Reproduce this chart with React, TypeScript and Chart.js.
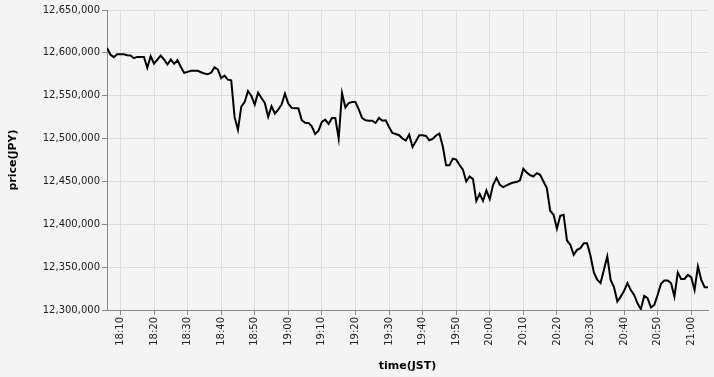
import React, { useEffect, useRef } from "react";
import { Chart, registerables } from "chart.js";

Chart.register(...registerables);

const times: string[] = [
  "18:06", "18:07", "18:08", "18:09",
  "18:10", "18:11", "18:12", "18:13", "18:14", "18:15", "18:16", "18:17", "18:18", "18:19",
  "18:20", "18:21", "18:22", "18:23", "18:24", "18:25", "18:26", "18:27", "18:28", "18:29",
  "18:30", "18:31", "18:32", "18:33", "18:34", "18:35", "18:36", "18:37", "18:38", "18:39",
  "18:40", "18:41", "18:42", "18:43", "18:44", "18:45", "18:46", "18:47", "18:48", "18:49",
  "18:50", "18:51", "18:52", "18:53", "18:54", "18:55", "18:56", "18:57", "18:58", "18:59",
  "19:00", "19:01", "19:02", "19:03", "19:04", "19:05", "19:06", "19:07", "19:08", "19:09",
  "19:10", "19:11", "19:12", "19:13", "19:14", "19:15", "19:16", "19:17", "19:18", "19:19",
  "19:20", "19:21", "19:22", "19:23", "19:24", "19:25", "19:26", "19:27", "19:28", "19:29",
  "19:30", "19:31", "19:32", "19:33", "19:34", "19:35", "19:36", "19:37", "19:38", "19:39",
  "19:40", "19:41", "19:42", "19:43", "19:44", "19:45", "19:46", "19:47", "19:48", "19:49",
  "19:50", "19:51", "19:52", "19:53", "19:54", "19:55", "19:56", "19:57", "19:58", "19:59",
  "20:00", "20:01", "20:02", "20:03", "20:04", "20:05", "20:06", "20:07", "20:08", "20:09",
  "20:10", "20:11", "20:12", "20:13", "20:14", "20:15", "20:16", "20:17", "20:18", "20:19",
  "20:20", "20:21", "20:22", "20:23", "20:24", "20:25", "20:26", "20:27", "20:28", "20:29",
  "20:30", "20:31", "20:32", "20:33", "20:34", "20:35", "20:36", "20:37", "20:38", "20:39",
  "20:40", "20:41", "20:42", "20:43", "20:44", "20:45", "20:46", "20:47", "20:48", "20:49",
  "20:50", "20:51", "20:52", "20:53", "20:54", "20:55", "20:56", "20:57", "20:58", "20:59",
  "21:00", "21:01", "21:02", "21:03", "21:04", "21:05",
];

const prices: number[] = [
  12605800, 12598000, 12595000, 12598400,
  12598400, 12598400, 12597300, 12596900, 12593800, 12595300, 12595300, 12595300, 12582500, 12596100,
  12587500, 12592000, 12596900, 12592200, 12586400, 12592200, 12587200, 12591400, 12583600, 12576600,
  12577800, 12579000, 12579000, 12579000, 12577400, 12576000, 12575000, 12576800, 12583000, 12580600,
  12570600, 12573500, 12568700, 12567900, 12525000, 12510200, 12537300, 12542500, 12555500, 12549700,
  12539600, 12553600, 12547300, 12541500, 12525400, 12537700, 12529200, 12533800, 12539600, 12552300,
  12540800, 12535800, 12535400, 12535400, 12521500, 12518500, 12518300, 12514300, 12505400, 12509300,
  12519400, 12522100, 12517100, 12524000, 12524000, 12500000, 12553100, 12536400, 12541500, 12542600,
  12542600, 12533700, 12524000, 12521300, 12520900, 12520900, 12518200, 12524000, 12520900, 12521300,
  12513600, 12506600, 12505400, 12503900, 12500000, 12497700, 12504600, 12490200, 12496900, 12503900,
  12503900, 12503100, 12498000, 12499600, 12503500, 12505900, 12491000, 12468800, 12468800, 12476600,
  12475400, 12469100, 12463700, 12450000, 12455900, 12452700, 12427300, 12435500, 12427300, 12439500,
  12429300, 12446100, 12453900, 12446100, 12443400, 12445300, 12447300, 12448800, 12449200, 12451200,
  12464800, 12460500, 12457400, 12455800, 12459700, 12457800, 12450000, 12442200, 12415800, 12411100,
  12394800, 12409900, 12411100, 12381100, 12376100, 12364400, 12370200, 12372200, 12378000, 12378000,
  12363300, 12343800, 12335300, 12331400, 12346900, 12362500, 12335000, 12326600, 12309800, 12315600,
  12322300, 12331300, 12323400, 12317600, 12307800, 12301000, 12316400, 12313700, 12303100, 12305900,
  12317600, 12330500, 12334400, 12334400, 12331300, 12315600, 12343800, 12336300, 12336300, 12341000,
  12338300, 12323400, 12350800, 12335200, 12326600, 12326600,
];

const yMin = 12300000;
const yMax = 12650000;
const yStep = 50000;
const xTickStepMinutes = 10;
const xTitle = "time(JST)";
const yTitle = "price(JPY)";

const toMinutes = (s: string) => {
  const [h, m] = s.split(":").map(Number);
  return h * 60 + m;
};
const fmtTime = (v: number) => {
  const h = Math.floor(v / 60);
  const m = Math.round(v - h * 60);
  return `${h}:${m < 10 ? "0" + m : m}`;
};

const bgPlugin = {
  id: "bg",
  beforeDraw(chart: any) {
    const ctx = chart.ctx;
    ctx.save();
    ctx.fillStyle = "#f4f4f4";
    ctx.fillRect(0, 0, chart.width, chart.height);
    ctx.restore();
  },
};

export default function App() {
  const ref = useRef<HTMLCanvasElement | null>(null);

  useEffect(() => {
    document.body.style.margin = "0";
    document.body.style.background = "#f4f4f4";
    const canvas = ref.current;
    if (!canvas) return;
    Chart.defaults.font.family = "'DejaVu Sans', sans-serif";
    const pts = times.map((t, i) => ({ x: toMinutes(t), y: prices[i] }));
    const xMin = toMinutes(times[0]);
    const xMax = toMinutes(times[times.length - 1]);
    const chart = new Chart(canvas, {
      type: "line",
      data: {
        datasets: [
          {
            data: pts,
            borderColor: "#000",
            borderWidth: 2,
            pointRadius: 0,
            tension: 0,
            fill: false,
          },
        ],
      },
      plugins: [bgPlugin],
      options: {
        animation: false,
        responsive: false,
        maintainAspectRatio: false,
        layout: { padding: { top: 10, right: 6, left: 0, bottom: 0 } },
        plugins: { legend: { display: false }, tooltip: { enabled: false } },
        scales: {
          x: {
            type: "linear",
            min: xMin,
            max: xMax,
            afterBuildTicks: (scale: any) => {
              const ticks = [];
              for (let v = Math.ceil(xMin / xTickStepMinutes) * xTickStepMinutes; v <= xMax; v += xTickStepMinutes) {
                ticks.push({ value: v });
              }
              scale.ticks = ticks;
            },
            afterFit: (scale: any) => {
              scale.height = 67;
            },
            ticks: {
              autoSkip: false,
              minRotation: 90,
              maxRotation: 90,
              padding: 2,
              color: "#222",
              font: { size: 10 },
              callback: (v: any) => fmtTime(Number(v)),
            },
            grid: { color: "#ddd", tickColor: "#888", tickLength: 5, lineWidth: 1 },
            border: { color: "#888", width: 1 },
            title: {
              display: true,
              text: xTitle,
              color: "#000",
              font: { size: 11, weight: "bold" },
              padding: { top: 0, bottom: 4 },
            },
          },
          y: {
            type: "linear",
            min: yMin,
            max: yMax,
            afterFit: (scale: any) => {
              scale.width = 107;
            },
            ticks: {
              stepSize: yStep,
              padding: 2,
              color: "#222",
              font: { size: 10 },
              callback: (v: any) => Number(v).toLocaleString("en-US"),
            },
            grid: { color: "#ddd", tickColor: "#888", tickLength: 5, lineWidth: 1 },
            border: { color: "#888", width: 1 },
            title: {
              display: true,
              text: yTitle,
              color: "#000",
              font: { size: 11, weight: "bold" },
              padding: { top: 7, bottom: 0 },
            },
          },
        },
      },
    } as any);
    return () => chart.destroy();
  }, []);

  return (
    <div style={{ width: 714, height: 377 }}>
      <canvas ref={ref} width={714} height={377} style={{ display: "block" }} />
    </div>
  );
}
